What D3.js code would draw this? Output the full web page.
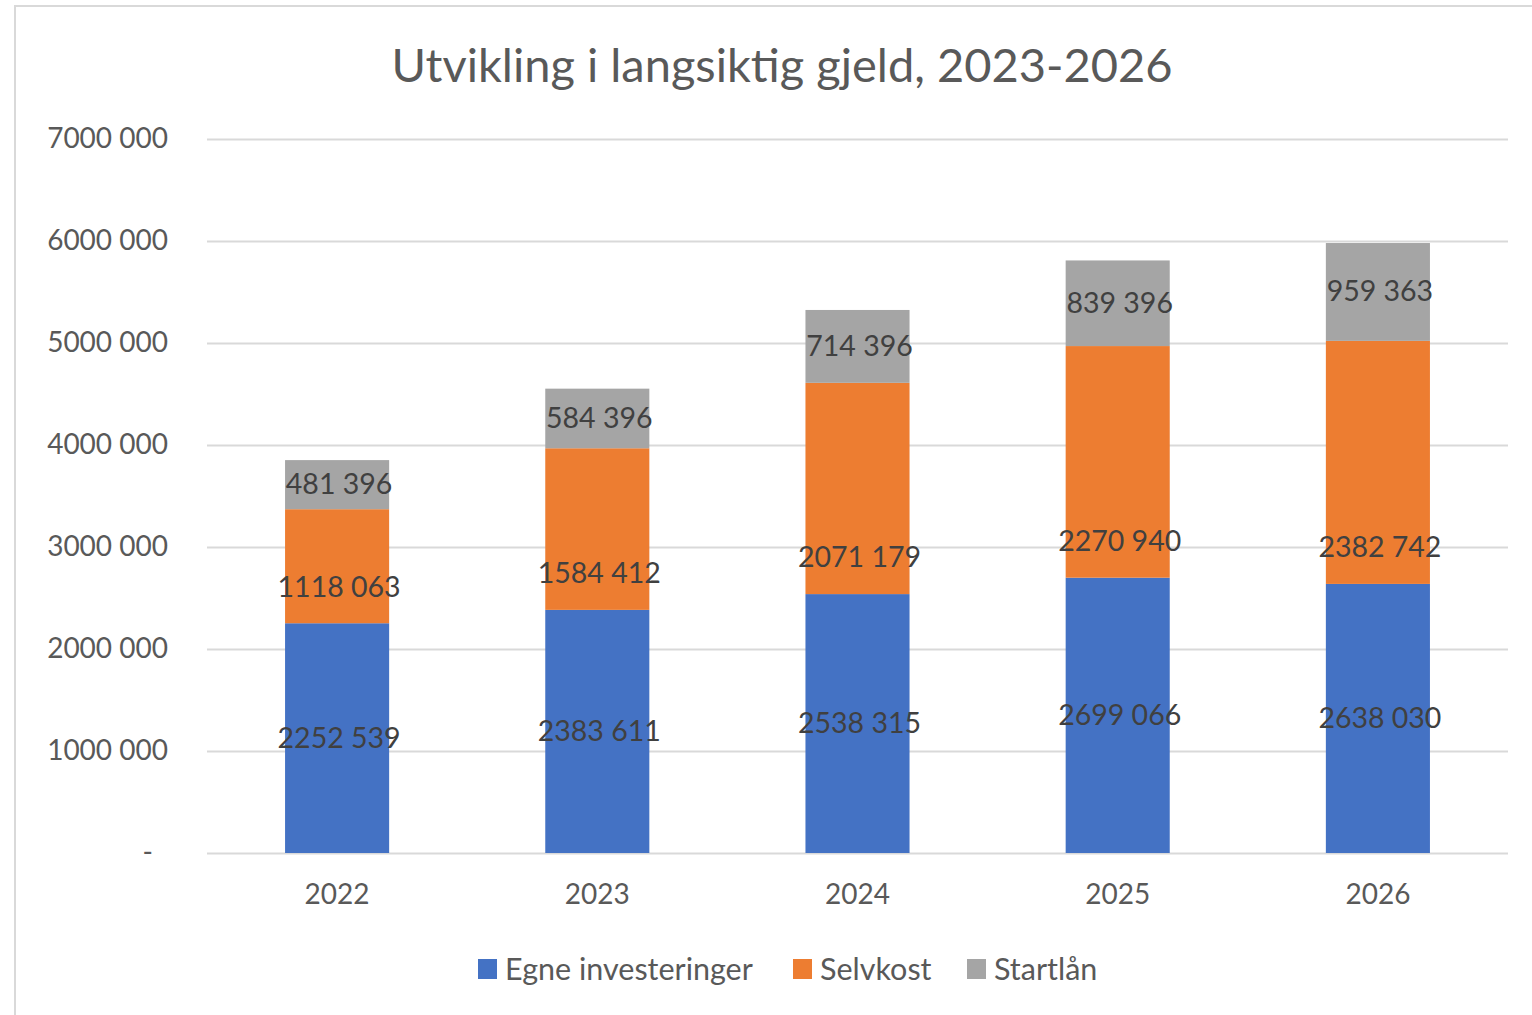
<!DOCTYPE html>
<html><head><meta charset="utf-8">
<script src="https://cdn.jsdelivr.net/npm/d3@7"></script>
<style>
html,body{margin:0;padding:0;background:#fff;}
svg{display:block;font-family:Lato,"Open Sans",sans-serif;}
</style></head>
<body><svg id="c" width="1532" height="1015"></svg>
<script>
const years = ["2022","2023","2024","2025","2026"];
const egneInvesteringer = [2252539, 2383611, 2538315, 2699066, 2638030];
const selvkost = [1118063, 1584412, 2071179, 2270940, 2382742];
const startlan = [481396, 584396, 714396, 839396, 959363];
const seriesNames = ["Egne investeringer","Selvkost","Startlån"];
const seriesColors = ["#4472C4","#ED7D31","#A5A5A5"];
const yTicks = [0,1000000,2000000,3000000,4000000,5000000,6000000,7000000];
const title = "Utvikling i langsiktig gjeld, 2023-2026";

function fmt(v){
  if (v===0) return "-";
  const s = Math.round(v).toString();
  return s.length>3 ? s.slice(0,-3)+" "+s.slice(-3) : s;
}

const svg = d3.select("#c");
svg.append("rect").attr("x",15).attr("y",6).attr("width",1530).attr("height",1020)
  .attr("fill","#fff").attr("stroke","#d9d9d9").attr("stroke-width",2);

const x = d3.scaleBand().domain(years).range([207,1508]).paddingInner(0.6).paddingOuter(0.3);
const y = d3.scaleLinear().domain([0,7000000]).range([853,139]);

// gridlines
const grid = svg.append("g").attr("transform","translate(207,0)")
  .call(d3.axisLeft(y).tickValues(yTicks).tickSize(-(1508-207)).tickFormat(""));
grid.select(".domain").remove();
grid.selectAll(".tick line").attr("stroke","#d9d9d9").attr("stroke-width",2);

// y axis labels
const ya = svg.append("g").attr("transform","translate(168,0)")
  .call(d3.axisLeft(y).tickValues(yTicks).tickSize(0).tickPadding(0).tickFormat(fmt));
ya.select(".domain").remove();
ya.selectAll("text").attr("fill","#595959").style("font-size","28px").style("font-family","Lato")
  .attr("dx", d => d===0 ? -15 : 0);

// x axis labels
const xa = svg.append("g").attr("transform","translate(0,853)")
  .call(d3.axisBottom(x).tickSize(0).tickPadding(31));
xa.select(".domain").remove();
xa.selectAll("text").attr("fill","#595959").style("font-size","28px").style("font-family","Lato");

// stacked data
const data = years.map((yr,i)=>({year:yr, s0:egneInvesteringer[i], s1:selvkost[i], s2:startlan[i]}));
const stack = d3.stack().keys(["s0","s1","s2"])(data);

const layers = svg.append("g").selectAll("g").data(stack).join("g")
  .attr("fill",(d,i)=>seriesColors[i]);
layers.selectAll("rect").data(d=>d).join("rect")
  .attr("x",d=>x(d.data.year)).attr("width",x.bandwidth())
  .attr("y",d=>y(d[1])).attr("height",d=>y(d[0])-y(d[1]));

// data labels
const lab = svg.append("g").style("font-size","28.5px").style("font-family","Lato").attr("fill","#404040")
  .attr("text-anchor","middle");
stack.forEach((layer,si)=>{
  layer.forEach(d=>{
    let cy = (y(d[0])+y(d[1]))/2;
    if (si===1) cy = y(d[0]) - 36;
    lab.append("text").attr("x",x(d.data.year)+x.bandwidth()/2+2).attr("y",cy)
      .attr("dy","0.33em").text(fmt(d[1]-d[0]));
  });
});

// title
svg.append("text").attr("x",782).attr("y",82).attr("text-anchor","middle")
  .attr("fill","#595959").style("font-size","47px").style("font-family","Lato").text(title);

// legend
const legX = [478,793,967];
const leg = svg.append("g");
seriesNames.forEach((n,i)=>{
  leg.append("rect").attr("x",legX[i]).attr("y",959).attr("width",19).attr("height",20).attr("fill",seriesColors[i]);
  leg.append("text").attr("x",legX[i]+27).attr("y",969).attr("dy","0.35em")
    .attr("fill","#595959").style("font-size","30.5px").style("font-family","Lato").text(n);
});
</script></body></html>
